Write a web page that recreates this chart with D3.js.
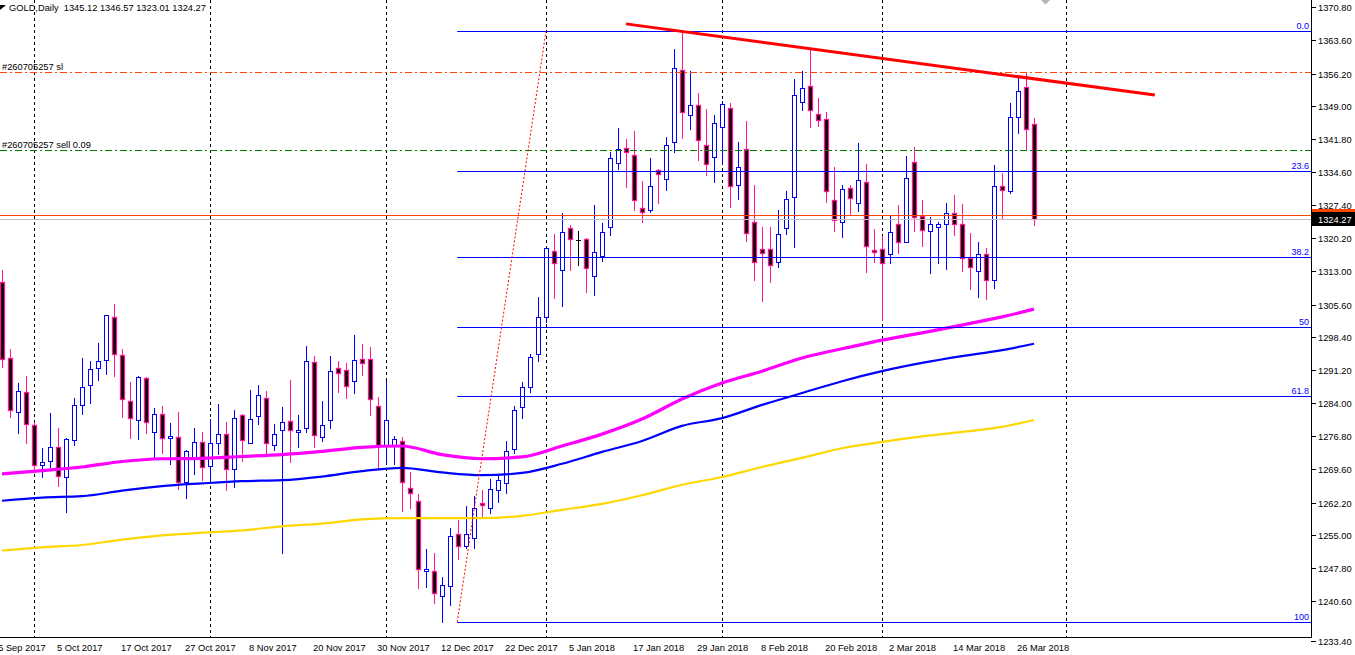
<!DOCTYPE html>
<html><head><meta charset="utf-8">
<script src="https://cdn.jsdelivr.net/npm/d3@7"></script>
<style>html,body{margin:0;padding:0;background:#fff;overflow:hidden}svg{display:block}text{font-family:"Liberation Sans",Arial,sans-serif}</style>
</head><body><svg id="c" width="1355" height="655"></svg>
<script>
const opens=[1310.5,1293.9,1282.1,1286.4,1279.2,1270.4,1271.3,1274.4,1267.8,1275.9,1283.6,1288.0,1291.7,1293.5,1302.9,1294.5,1284.5,1280.3,1289.5,1277.7,1281.6,1276.4,1276.6,1266.7,1272.2,1275.5,1270.2,1275.3,1277.2,1269.6,1281.4,1275.3,1281.2,1285.1,1274.8,1278.1,1280.1,1277.7,1278.5,1293.0,1276.6,1280.3,1291.7,1291.3,1288.8,1293.7,1293.7,1283.4,1274.8,1274.8,1275.7,1265.4,1262.6,1247.2,1247.2,1241.7,1243.9,1255.3,1252.7,1254.4,1262.1,1261.0,1265.0,1266.5,1273.9,1283.2,1287.5,1294.8,1302.9,1317.3,1313.2,1322.4,1319.7,1320.0,1311.9,1316.2,1322.6,1336.6,1339.9,1338.4,1326.8,1326.3,1335.1,1333.1,1341.2,1357.0,1347.1,1349.3,1340.6,1337.9,1344.5,1348.7,1331.8,1339.7,1323.7,1317.8,1317.8,1314.9,1322.4,1329.2,1350.0,1353.5,1347.4,1346.3,1328.5,1323.7,1331.1,1327.9,1332.5,1317.6,1317.8,1316.7,1323.3,1319.3,1336.8,1325.0,1321.7,1322.6,1323.3,1325.7,1323.3,1315.8,1313.0,1316.7,1311.0,1331.6,1330.5,1346.7,1353.3,1345.12];
const highs=[1313.2,1295.9,1288.4,1289.9,1279.9,1274.2,1281.8,1278.5,1276.4,1285.1,1293.9,1293.2,1297.2,1303.3,1305.7,1295.9,1288.6,1289.9,1289.7,1282.9,1283.4,1279.6,1282.1,1273.7,1278.5,1277.7,1280.5,1283.8,1279.9,1282.5,1281.6,1286.9,1288.0,1286.7,1279.4,1283.2,1289.1,1281.4,1296.5,1294.3,1284.5,1294.3,1293.2,1292.8,1298.9,1297.0,1296.3,1285.3,1288.8,1276.8,1276.6,1268.9,1264.1,1252.0,1251.1,1245.9,1256.6,1258.4,1261.5,1263.6,1265.0,1267.4,1268.5,1275.7,1283.4,1288.6,1294.8,1307.3,1318.0,1321.1,1325.7,1323.0,1321.7,1320.2,1327.4,1323.5,1339.0,1344.3,1341.9,1343.6,1332.7,1337.7,1335.3,1342.3,1361.6,1365.5,1356.8,1352.0,1348.5,1347.1,1350.2,1349.8,1341.2,1345.8,1331.8,1322.6,1322.6,1326.3,1330.5,1355.0,1356.8,1361.8,1350.9,1347.8,1335.7,1331.8,1331.8,1341.0,1336.4,1322.2,1320.6,1325.0,1327.4,1338.2,1340.1,1328.5,1324.8,1323.7,1327.9,1329.6,1327.6,1321.3,1319.3,1318.0,1336.2,1334.4,1349.8,1355.3,1356.6,1346.57];
const lows=[1291.9,1281.0,1277.5,1275.3,1269.3,1267.8,1270.0,1265.8,1260.1,1274.8,1281.6,1284.0,1289.1,1290.4,1289.9,1281.0,1276.4,1276.1,1277.5,1272.2,1273.1,1270.7,1265.2,1263.2,1268.5,1267.2,1266.9,1272.9,1265.0,1265.6,1271.3,1275.3,1279.4,1272.9,1273.7,1251.2,1271.1,1274.4,1277.7,1274.4,1275.7,1278.5,1286.4,1285.1,1286.2,1290.2,1281.4,1269.8,1270.9,1270.7,1260.4,1261.0,1243.5,1243.7,1240.2,1236.0,1239.8,1249.8,1252.3,1252.3,1258.8,1259.9,1262.3,1264.3,1273.1,1280.7,1286.4,1293.2,1301.8,1307.0,1305.3,1313.2,1314.3,1308.4,1307.7,1315.1,1320.8,1335.3,1331.4,1326.3,1323.7,1325.9,1327.9,1330.7,1339.0,1342.1,1344.1,1337.3,1334.0,1332.5,1336.6,1327.0,1328.7,1319.5,1311.0,1306.4,1310.5,1313.8,1321.1,1318.2,1348.2,1344.5,1344.7,1328.1,1321.7,1320.4,1325.2,1326.1,1312.7,1314.9,1302.2,1314.7,1316.9,1319.3,1321.7,1318.4,1312.5,1314.7,1313.4,1320.8,1313.0,1309.0,1307.3,1306.8,1309.2,1324.4,1330.0,1343.2,1339.5,1323.01];
const closes=[1293.7,1282.5,1286.7,1279.4,1270.4,1271.1,1274.4,1268.0,1276.1,1283.6,1287.5,1291.5,1293.2,1303.3,1294.8,1284.9,1280.7,1289.7,1279.9,1281.6,1276.4,1276.8,1266.7,1273.5,1275.5,1270.0,1275.3,1277.2,1269.6,1280.7,1275.9,1280.5,1285.8,1275.3,1277.2,1279.9,1278.1,1278.1,1293.2,1277.0,1279.2,1291.0,1290.6,1287.8,1293.5,1292.8,1284.9,1274.8,1280.3,1276.1,1266.7,1264.3,1247.6,1247.6,1242.4,1244.1,1254.9,1252.7,1255.3,1261.0,1261.7,1265.2,1267.2,1273.5,1282.5,1287.5,1294.1,1302.9,1318.0,1314.7,1321.5,1320.0,1319.7,1313.6,1317.1,1321.5,1337.7,1339.7,1339.0,1328.5,1325.9,1331.6,1334.2,1340.6,1357.4,1347.8,1349.3,1341.7,1336.4,1345.4,1349.6,1331.6,1335.7,1321.3,1314.9,1316.9,1314.3,1321.1,1328.7,1351.5,1353.1,1348.2,1346.0,1330.5,1324.1,1330.9,1329.0,1332.9,1318.4,1317.1,1314.7,1321.5,1319.3,1333.3,1324.8,1321.9,1323.3,1323.3,1325.7,1323.3,1315.8,1313.8,1316.7,1311.0,1331.6,1330.7,1346.7,1352.4,1344.1,1324.27];

const maBars=[0,5,10,15,20,25,30,35,40,45,50,55,60,65,70,75,80,85,90,95,100,105,110,115,120,125,129];
const maMagenta=[1268.5,1269.2,1270.0,1271.2,1271.8,1271.9,1272.3,1272.7,1273.4,1274.3,1274.6,1272.7,1271.8,1272.2,1274.6,1277.2,1280.5,1284.9,1288.4,1291.0,1293.9,1295.9,1297.8,1299.4,1301.1,1302.9,1304.6];
const maBlue=[1262.6,1263.3,1263.6,1264.8,1265.8,1266.4,1266.9,1267.1,1267.9,1269.1,1269.8,1268.8,1268.2,1268.7,1270.7,1273.3,1275.7,1279.0,1280.7,1283.6,1286.2,1288.8,1291.0,1292.8,1294.3,1295.6,1297.0];
const maGold=[1251.7,1252.4,1252.9,1254.1,1255.0,1255.6,1256.1,1257.0,1257.6,1258.5,1258.8,1258.8,1258.8,1259.3,1260.6,1261.9,1263.8,1266.1,1267.8,1270.0,1272.0,1274.1,1275.5,1276.7,1277.7,1278.8,1280.3];

const priceTicks=[1370.80,1363.60,1356.20,1349.00,1341.80,1334.60,1327.40,1320.20,1313.00,1305.60,1298.40,1291.20,1284.00,1276.80,1269.60,1262.20,1255.00,1247.80,1240.60,1233.40];
const dateLabels=["25 Sep 2017","5 Oct 2017","17 Oct 2017","27 Oct 2017","8 Nov 2017","20 Nov 2017","30 Nov 2017","12 Dec 2017","22 Dec 2017","5 Jan 2018","17 Jan 2018","29 Jan 2018","8 Feb 2018","20 Feb 2018","2 Mar 2018","14 Mar 2018","26 Mar 2018"];
const dateBars=[-1,7,15,23,31,39,47,55,63,71,79,87,95,103,111,119,127];
const gridBars=[4,26,48,68,90,110,133];

const fibLevels=[0,23.6,38.2,50,61.8,100];
const fibLabels=["0.0","23.6","38.2","50","61.8","100"];
const fibHigh=1365.5, fibLow=1236.0, fibStartBar=56.9, fibEndBar=68;
const trendBars=[78,144.1], trendPrices=[1367.1,1351.5];
const slPrice=1356.5, sellPrice=1339.5, askPrice=1325.27, bidPrice=1324.27;
const title="GOLD,Daily  1345.12 1346.57 1323.01 1324.27";

const W=1355,H=655, axisX=1311, axisY=637;
const svg=d3.select("#c");
svg.append("rect").attr("width",W).attr("height",H).attr("fill","#fff");
const x=d3.scaleLinear().domain([0,129]).range([2,1034]);
const y=d3.scaleLinear().domain([1233.4,1370.8]).range([634,7]);
const FS="9.3px";
svg.append("defs").append("clipPath").attr("id","pc").append("rect").attr("x",0).attr("y",0).attr("width",axisX).attr("height",axisY);
const plot=svg.append("g").attr("clip-path","url(#pc)");

// grid
plot.selectAll("line.g").data(gridBars).enter().append("line")
 .attr("x1",d=>Math.round(x(d))+0.5).attr("x2",d=>Math.round(x(d))+0.5)
 .attr("y1",0).attr("y2",axisY).attr("stroke","#000").attr("stroke-dasharray","3,3").attr("stroke-width",1);

// candles
const BULL="#0000ff", BEAR="#ff1493";
const idx=d3.range(opens.length);
const cg=plot.append("g");
idx.forEach(i=>{
 const o=opens[i],h=highs[i],l=lows[i],c=closes[i];
 const cx=Math.round(x(i));
 const col=c>o?BULL:(c<o?BEAR:"#000");
 cg.append("line").attr("x1",cx+0.5).attr("x2",cx+0.5).attr("y1",Math.round(y(h))).attr("y2",Math.round(y(l))+1).attr("stroke",col).attr("stroke-width",1);
 const t=Math.round(y(Math.max(o,c))), b=Math.round(y(Math.min(o,c)));
 if(c===o){
  cg.append("line").attr("x1",cx-2).attr("x2",cx+3).attr("y1",t+0.5).attr("y2",t+0.5).attr("stroke",col);
 } else {
  cg.append("rect").attr("x",cx-1.5).attr("y",t+0.5).attr("width",4).attr("height",Math.max(b-t,1))
   .attr("fill",c>o?"#fff":"#000").attr("stroke",col).attr("stroke-width",c>o?1:1.3);
 }
});

// moving averages
const line=d3.line().x((d,i)=>x(maBars[i])).y(d=>y(d)).curve(d3.curveMonotoneX);
plot.append("path").attr("d",line(maGold)).attr("fill","none").attr("stroke","#ffd700").attr("stroke-width",2.2);
plot.append("path").attr("d",line(maBlue)).attr("fill","none").attr("stroke","#0000ff").attr("stroke-width",2.2);
plot.append("path").attr("d",line(maMagenta)).attr("fill","none").attr("stroke","#ff00ff").attr("stroke-width",3.2);

// horizontal order lines
function hline(p,col,dash){
 const yy=Math.round(y(p))+0.5;
 const l=plot.append("line").attr("x1",0).attr("x2",axisX).attr("y1",yy).attr("y2",yy).attr("stroke",col).attr("stroke-width",1);
 if(dash) l.attr("stroke-dasharray",dash);
 return yy;
}
hline(bidPrice,"#c0c0c0");
hline(askPrice,"#ff4500");
const ySl=hline(slPrice,"#ff4500","7,3,2,3");
const ySell=hline(sellPrice,"#008000","7,3,2,3");
plot.append("text").attr("x",2).attr("y",ySl-3).attr("font-size",FS).attr("fill","#000").text("#260705257 sl");
plot.append("text").attr("x",2).attr("y",ySell-3).attr("font-size",FS).attr("fill","#000").text("#260705257 sell 0.09");

// fibonacci
fibLevels.forEach((lv,k)=>{
 const p=fibHigh-(fibHigh-fibLow)*lv/100;
 const yy=Math.round(y(p))+0.5;
 plot.append("line").attr("x1",x(fibStartBar)).attr("x2",axisX).attr("y1",yy).attr("y2",yy).attr("stroke","#0000ff").attr("stroke-width",1);
 plot.append("text").attr("x",1309).attr("y",yy-3).attr("text-anchor","end").attr("font-size","9px").attr("fill","#0000ff").text(fibLabels[k]);
});
plot.append("line").attr("x1",x(fibStartBar)).attr("y1",y(fibLow)).attr("x2",x(fibEndBar)).attr("y2",y(fibHigh))
 .attr("stroke","#ff0000").attr("stroke-width",1).attr("stroke-dasharray","2,2");

// trendline
plot.append("line").attr("x1",x(trendBars[0])).attr("y1",y(trendPrices[0])).attr("x2",x(trendBars[1])).attr("y2",y(trendPrices[1]))
 .attr("stroke","#ff0000").attr("stroke-width",3);

// small icon at top
svg.append("polygon").attr("points","1041,0 1050,0 1045.5,4.5").attr("fill","#b4b4b4");

// axes
svg.append("line").attr("x1",axisX+0.5).attr("x2",axisX+0.5).attr("y1",0).attr("y2",axisY+1).attr("stroke","#000");
svg.append("line").attr("x1",0).attr("x2",axisX+1).attr("y1",axisY+0.5).attr("y2",axisY+0.5).attr("stroke","#000");
priceTicks.forEach((v,k)=>{
 let yy=Math.round(y(v))+0.5;
 if(k===priceTicks.length-1) yy=641.5;
 svg.append("line").attr("x1",axisX).attr("x2",axisX+5).attr("y1",yy).attr("y2",yy).attr("stroke","#000");
 svg.append("text").attr("x",1318).attr("y",yy+3.5).attr("font-size",FS).attr("fill","#000").text(d3.format(".2f")(v));
});
// price boxes (ask box mostly hidden behind bid box, as in the reference)
const yA=Math.round(y(askPrice)), yB=Math.round(y(bidPrice));
svg.append("rect").attr("x",1312).attr("y",yA-6).attr("width",43).attr("height",8).attr("fill","#ff4500");
svg.append("rect").attr("x",1312).attr("y",yB-7).attr("width",43).attr("height",14).attr("fill","#000");
svg.append("text").attr("x",1318).attr("y",yB+4).attr("font-size",FS).attr("fill","#fff").text(d3.format(".2f")(bidPrice));

// dates
dateBars.forEach((b,k)=>{
 svg.append("text").attr("x",x(b)-1).attr("y",651).attr("font-size",FS).attr("fill","#000").text(dateLabels[k]);
});

// title
svg.append("polygon").attr("points","0,5 6,5 0,10").attr("fill","#000");
svg.append("text").attr("x",9).attr("y",11).attr("font-size",FS).attr("fill","#000").attr("xml:space","preserve").style("white-space","pre").text(title);
</script></body></html>
